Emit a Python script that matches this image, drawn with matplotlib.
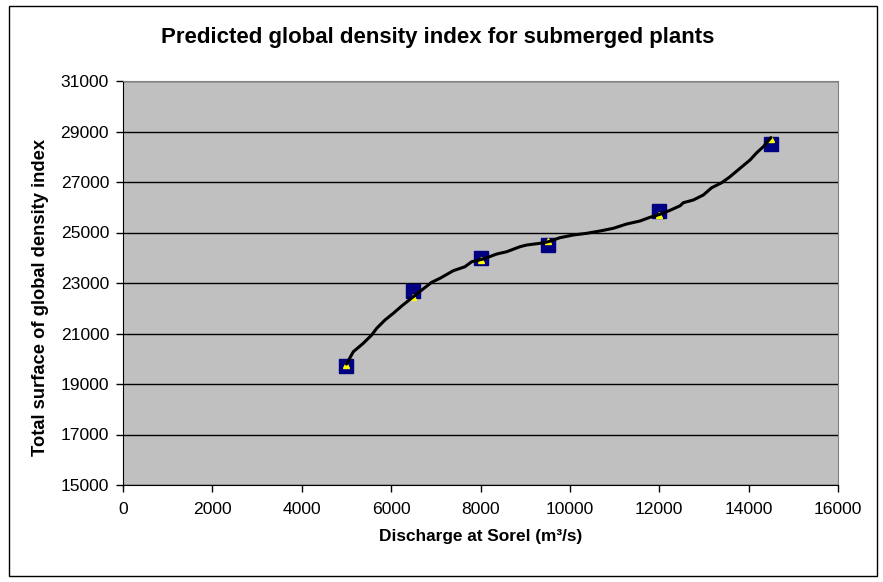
import matplotlib
matplotlib.use("Agg")
import matplotlib.pyplot as plt
from matplotlib.patches import Rectangle

# observed index (squares) and predicted index (triangles) per discharge
discharge = [5000, 6500, 8000, 9500, 12000, 14500]
observed = [19700, 22700, 24000, 24500, 25850, 28500]
predicted = [19750, 22450, 23900, 24650, 25700, 28700]

# fitted curve, read along the discharge range
curve_x = [5000, 5154, 5377, 5565, 5677, 5863, 6049, 6237, 6572, 6908,
           7094, 7391, 7653, 7803, 8063, 8363, 8587, 8884, 9034, 9332,
           9518, 9779, 10077, 10377, 10674, 10972, 11272, 11569, 11793,
           12017, 12241, 12465, 12539, 12762, 12986, 13174, 13398, 13584,
           13808, 14031, 14181, 14329, 14500]
curve_y = [19790, 20279, 20612, 20941, 21206, 21535, 21800, 22089, 22564,
           23028, 23186, 23487, 23645, 23843, 23950, 24148, 24239, 24437,
           24505, 24572, 24636, 24794, 24901, 24968, 25059, 25166, 25337,
           25455, 25602, 25721, 25879, 26057, 26180, 26287, 26485, 26774,
           26972, 27210, 27543, 27871, 28160, 28398, 28760]

x_ticks = list(range(0, 16001, 2000))
y_ticks = list(range(15000, 31001, 2000))

plt.rcParams["font.family"] = ["Liberation Sans", "DejaVu Sans"]

fig = plt.figure(figsize=(8.83, 5.82), dpi=100)
fig.patches.append(Rectangle((9 / 883, 1 - 576 / 582), 868 / 883, 570 / 582,
                             transform=fig.transFigure, fill=False,
                             edgecolor="black", lw=1.0))
ax = fig.add_axes([123 / 883, 1 - 485 / 582, 715 / 883, 404 / 582])
ax.set_facecolor("#C0C0C0")

ax.plot(discharge, observed, ls="none", marker="s", ms=9.4,
        mfc="#000080", mec="#000080", zorder=3)
ax.plot(discharge, predicted, ls="none", marker="^", ms=4.5,
        mfc="#FFFF00", mec="#FFFF00", zorder=4)
ax.plot(curve_x, curve_y, color="black", lw=2.2, zorder=5,
        solid_capstyle="round", solid_joinstyle="round")

ax.set_xlim(0, 16000)
ax.set_ylim(15000, 31000)
ax.set_xticks(x_ticks)
ax.set_yticks(y_ticks)
ax.tick_params(axis="both", direction="out", length=5, width=1,
               labelsize=12.6, colors="black", pad=5)
ax.tick_params(axis="x", pad=7)
ax.yaxis.grid(True, color="black", lw=1)
ax.set_axisbelow(True)
for side in ("top", "right"):
    ax.spines[side].set_color("#808080")
for side in ("left", "bottom"):
    ax.spines[side].set_color("black")

ax.set_xlabel("Discharge at Sorel (m³/s)", fontsize=12.4, fontweight="bold",
              labelpad=9)
fig.text(41 / 883, 1 - 297 / 582, "Total surface of global density index",
         rotation=90, ha="center", va="center", fontsize=13.2,
         fontweight="bold")
fig.text(438 / 883, 1 - 38 / 582,
         "Predicted global density index for submerged plants",
         ha="center", va="center", fontsize=16, fontweight="bold")

fig.savefig("out.png", dpi=100)
